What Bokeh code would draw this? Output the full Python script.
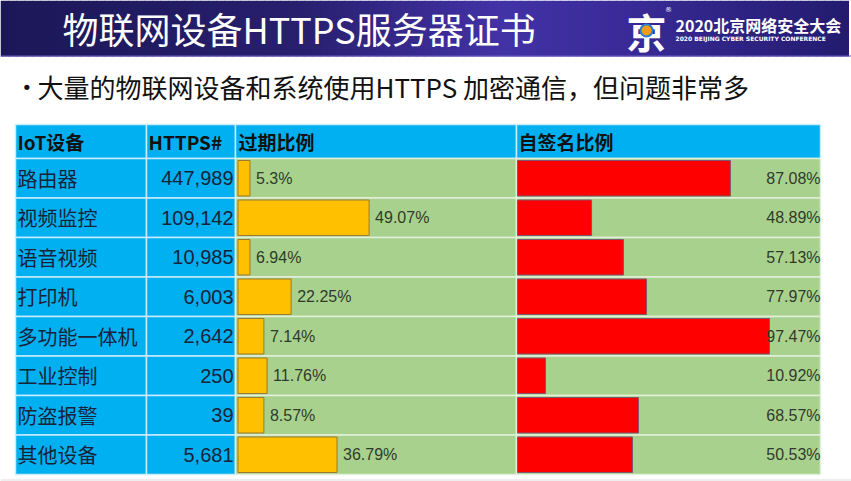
from bokeh.plotting import figure
from bokeh.models import Range1d, ColumnDataSource
from bokeh.core.properties import value
from bokeh.embed import file_html
from bokeh.resources import INLINE

# ---------------- data ----------------
title = "物联网设备HTTPS服务器证书"
bullet = "大量的物联网设备和系统使用HTTPS 加密通信，但问题非常多"
headers = ["IoT设备", "HTTPS#", "过期比例", "自签名比例"]
devices = ["路由器", "视频监控", "语音视频", "打印机", "多功能一体机", "工业控制", "防盗报警", "其他设备"]
https_counts = [447989, 109142, 10985, 6003, 2642, 250, 39, 5681]
expired_pct = [5.3, 49.07, 6.94, 22.25, 7.14, 11.76, 8.57, 36.79]
selfsigned_pct = [87.08, 48.89, 57.13, 77.97, 97.47, 10.92, 68.57, 50.53]
# bar lengths as drawn in the reference (percent scale; they do not follow the labels exactly)
expired_bar = [4.5, 49.1, 4.5, 19.9, 9.7, 10.9, 9.7, 37.1]
selfsigned_bar = [82.2, 28.6, 40.9, 49.8, 97.3, 10.8, 46.7, 44.4]

# ---------------- layout ----------------
W, H = 851, 481
CJK = "Noto Sans CJK SC"
col_edges = [15, 146, 235, 516, 820]
head_top, head_bot = 124, 158
rows_bot = 474
n = len(devices)
row_h = (rows_bot - head_bot) / n
row_top = [head_bot + i * row_h for i in range(n)]
row_mid = [t + row_h / 2 for t in row_top]

BLUE = "#00B0F0"
GREEN = "#A9D18E"

p = figure(width=W, height=H, x_range=Range1d(0, W), y_range=Range1d(H, 0),
           output_backend="svg", toolbar_location=None, min_border=0,
           x_axis_location=None, y_axis_location=None)
p.grid.visible = False
p.outline_line_color = None
p.background_fill_color = "white"
p.border_fill_color = "white"

# percent scales for the two bar columns
EXP0, EXP_S = 237.5, 2.67
SELF0, SELF_S = 517.0, 2.59
p.extra_x_ranges = {
    "exp": Range1d(-EXP0 / EXP_S, (W - EXP0) / EXP_S),
    "self": Range1d(-SELF0 / SELF_S, (W - SELF0) / SELF_S),
}

# ---------------- banner ----------------
def hex2rgb(h):
    h = h.lstrip("#")
    return tuple(int(h[i:i + 2], 16) for i in (0, 2, 4))

stops = [(0, "#1b1757"), (300, "#281f6e"), (500, "#4232a6"), (620, "#3a2b98"), (851, "#231b6e")]
lefts, rights, cols = [], [], []
step = 8
for x0 in range(0, W, step):
    xc = x0 + step / 2
    for (a, ca), (b, cb) in zip(stops[:-1], stops[1:]):
        if a <= xc <= b:
            t = (xc - a) / (b - a)
            r1, g1, b1 = hex2rgb(ca)
            r2, g2, b2 = hex2rgb(cb)
            cols.append("#%02x%02x%02x" % (round(r1 + (r2 - r1) * t), round(g1 + (g2 - g1) * t), round(b1 + (b2 - b1) * t)))
            break
    lefts.append(x0)
    rights.append(min(x0 + step + 0.5, W))
p.quad(left=lefts, right=rights, top=0, bottom=56, fill_color=cols, line_color=None)
p.segment(x0=0, y0=55.5, x1=W, y1=55.5, line_color="#6a5cc4", line_width=1)

p.text(x=[62], y=[27], text=[title], text_font=value(CJK), text_font_size="36px",
       text_color="white", text_baseline="middle", text_align="left")

# logo
p.text(x=[646], y=[30], text=["京"], text_font=value(CJK), text_font_size="40px",
       text_font_style="bold", text_color="white", text_baseline="middle", text_align="center")
p.circle(x=[646], y=[30], radius=6, fill_color="#f39c12", line_color="#2a7fd4", line_width=2)
p.text(x=[668], y=[9], text=["®"], text_font=value("DejaVu Sans"), text_font_size="7px",
       text_color="white", text_baseline="middle", text_align="center")
p.text(x=[675], y=[24], text=["2020北京网络安全大会"], text_font=value(CJK), text_font_size="16px",
       text_font_style="bold", text_color="white", text_baseline="middle", text_align="left")
p.text(x=[675], y=[38], text=["2020 BEIJING CYBER SECURITY CONFERENCE"], text_font=value("DejaVu Sans"),
       text_font_size="6px", text_font_style="bold", text_color="white", text_baseline="middle", text_align="left")

# bullet line
p.text(x=[21], y=[87], text=["•"], text_font=value("DejaVu Sans"), text_font_size="18px",
       text_color="#111111", text_baseline="middle", text_align="left")
p.text(x=[37], y=[86], text=[bullet], text_font=value(CJK), text_font_size="26px",
       text_color="#111111", text_baseline="middle", text_align="left")

# ---------------- table cells ----------------
# header row
p.quad(left=col_edges[:-1], right=col_edges[1:], top=head_top, bottom=head_bot,
       fill_color=BLUE, line_color="#c9ecfa", line_width=1.5)
# body cells
cl, cr, ct, cb, cf, clc = [], [], [], [], [], []
for i in range(n):
    for j in range(4):
        cl.append(col_edges[j]); cr.append(col_edges[j + 1])
        ct.append(row_top[i]); cb.append(row_top[i] + row_h)
        cf.append(BLUE if j < 2 else GREEN)
        clc.append("#c9ecfa" if j < 2 else "#e2f0da")
p.quad(left=cl, right=cr, top=ct, bottom=cb, fill_color=cf, line_color=clc, line_width=1.5)

# header texts
hx = [col_edges[0] + 2, col_edges[1] + 2, col_edges[2] + 3, col_edges[3] + 2]
p.text(x=hx, y=[(head_top + head_bot) / 2] * 4, text=headers, text_font=value(CJK),
       text_font_size="19px", text_font_style="bold", text_color="#111111",
       text_baseline="middle", text_align="left")

src = ColumnDataSource(dict(
    y=row_mid,
    dev=devices,
    cnt=[f"{v:,}" for v in https_counts],
    exp_bar=expired_bar,
    self_bar=selfsigned_bar,
    exp_lbl=[f"{v}%" for v in expired_pct],
    self_lbl=[f"{v}%" for v in selfsigned_pct],
))

p.text(x=col_edges[0] + 2, y="y", text="dev", source=src, text_font=value(CJK),
       text_font_size="20px", text_color="#18233a", text_baseline="middle", text_align="left")
p.text(x=col_edges[2] - 2, y="y", text="cnt", source=src, text_font=value("Liberation Sans"),
       text_font_size="20px", text_color="#18233a", text_baseline="middle", text_align="right")

# bars
bar_h = row_h - 4
p.hbar(y="y", left=0, right="exp_bar", height=bar_h, source=src, x_range_name="exp",
       fill_color="#FFC000", line_color="#9a7a2e", line_width=1)
p.hbar(y="y", left=0, right="self_bar", height=bar_h, source=src, x_range_name="self",
       fill_color="#FF0000", line_color="#7d5670", line_width=1)

# value labels
p.text(x="exp_bar", y="y", text="exp_lbl", source=src, x_range_name="exp", x_offset=6,
       text_font=value("Liberation Sans"), text_font_size="16px", text_color="#2f3b2a",
       text_baseline="middle", text_align="left")
p.text(x=col_edges[4], y="y", text="self_lbl", source=src,
       text_font=value("Liberation Sans"), text_font_size="16px", text_color="#2f3b2a",
       text_baseline="middle", text_align="right")

# bottom rule
p.segment(x0=0, y0=479.5, x1=W, y1=479.5, line_color="#dddddd", line_width=1)

open("out.html", "w").write(file_html(p, INLINE))
